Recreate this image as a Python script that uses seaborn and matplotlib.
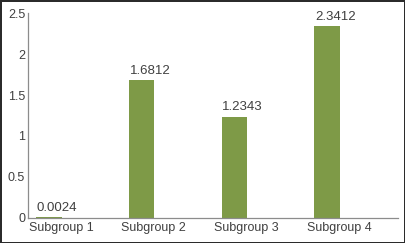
import matplotlib
matplotlib.use("Agg")
import matplotlib.pyplot as plt
import seaborn as sns
import pandas as pd
import numpy as np
from matplotlib.transforms import ScaledTranslation

categories = ["Subgroup 1", "Subgroup 2", "Subgroup 3", "Subgroup 4"]
values = [0.0024, 1.6812, 1.2343, 2.3412]
value_labels = ["0.0024", "1.6812", "1.2343", "2.3412"]
yticks = [0, 0.5, 1, 1.5, 2, 2.5]
ytick_labels = ["0", "0.5", "1", "1.5", "2", "2.5"]

sns.set_style("white")
plt.rcParams['font.family'] = ['Liberation Sans', 'DejaVu Sans']

df = pd.DataFrame({"cat": categories, "val": values})

fig = plt.figure(figsize=(4.05, 2.43), dpi=100, linewidth=2, edgecolor="#2b2b2b")
ax = fig.add_axes([28/405, 25.5/243, 370/405, 204/243])

bar_color = "#7e9a47"
text_color = "#404040"
sns.barplot(data=df, x="cat", y="val", color=bar_color, width=0.275,
            saturation=1, ax=ax, edgecolor="none")

ax.set_xlim(-0.227, 3.766)
ax.set_ylim(0, 2.5)
ax.set_yticks(yticks)
ax.set_yticklabels(ytick_labels)
ax.set_xlabel("")
ax.set_ylabel("")

for s in ["top", "right"]:
    ax.spines[s].set_visible(False)
for s in ["left", "bottom"]:
    ax.spines[s].set_color("#8c8c8c")
    ax.spines[s].set_linewidth(0.9)

ax.tick_params(axis="both", length=0, labelsize=9, colors=text_color)
ax.tick_params(axis="y", pad=2)
ax.tick_params(axis="x", pad=3)

off = ScaledTranslation(12/100, 0, fig.dpi_scale_trans)
for lab in ax.get_xticklabels():
    lab.set_transform(lab.get_transform() + off)

for patch, lbl in zip(ax.patches, value_labels):
    ax.annotate(lbl, xy=(patch.get_x(), patch.get_height()),
                xytext=(0.5, 2.5), textcoords="offset points",
                ha="left", va="bottom", fontsize=9.5, color=text_color)

fig.savefig("out.png", dpi=100, edgecolor=fig.get_edgecolor(), facecolor="white")
